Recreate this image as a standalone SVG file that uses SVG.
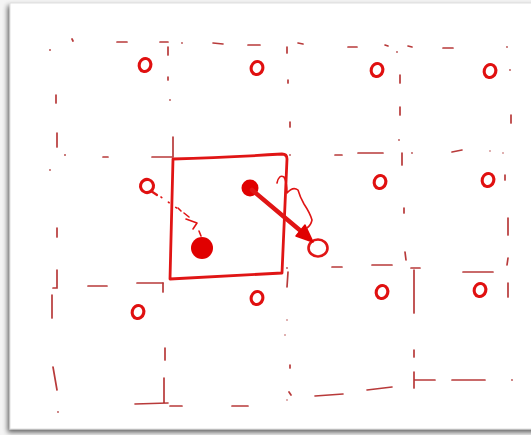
<svg xmlns="http://www.w3.org/2000/svg" width="531" height="435" viewBox="0 0 531 435">
<defs>
<style>
.g{fill:none;stroke:#b83a3a;stroke-width:1.7;stroke-linecap:round}
.d{fill:#b85050}
.o{fill:none;stroke:#e01010;stroke-width:3.1}
.r{fill:none;stroke:#e01515;stroke-linecap:round;stroke-linejoin:round}
</style>
<filter id="sh" x="-5%" y="-5%" width="110%" height="110%">
<feGaussianBlur in="SourceAlpha" stdDeviation="2.5"/>
<feOffset dx="-2" dy="3"/>
<feComponentTransfer><feFuncA type="linear" slope="0.6"/></feComponentTransfer>
<feMerge><feMergeNode/><feMergeNode in="SourceGraphic"/></feMerge>
</filter>
</defs>
<rect x="0" y="0" width="531" height="435" fill="#f4f4f4"/>
<rect x="10" y="3" width="530" height="426" fill="#ffffff" stroke="#d8d8d8" stroke-width="0.8" filter="url(#sh)"/>

<g id="grid">
<path class="g" d="M117,42 L127,42 M160,42 L168,42 M168,47 L168,55 M213,43 L223,44 M248,45 L260,45 M287,47 L287,53 M298,43 L303,44 M348,47 L357,47 M385,45 L388,46 M408,46 L412,47 M443,48 L453,48 M72,39 L73,41"/>
<path class="g" d="M56,95 L56,103 M57,133 L57,147 M57,228 L57,237 M57,270 L57,288 L53,288 M52,295 L52,318 M53,367 L57,390"/>
<path class="g" d="M168,77 L168,80 M173,137 L173,157 M163,283 L163,292 M165,348 L165,360 M164,378 L164,402 M135,404 L168,403 M170,406 L182,406 M232,406 L248,406"/>
<path class="g" d="M288,80 L288,83 M290,122 L290,127 M288,272 L287,287 M290,365 L290,368 M289,392 L291,395 M315,396 L343,394 M367,390 L392,387"/>
<path class="g" d="M400,75 L400,83 M400,107 L400,115 M402,153 L402,165 M404,208 L404,213 M405,252 L406,260 M411,268 L420,268 M414,270 L414,313 M414,350 L414,357 M414,372 L414,388 M415,380 L435,380 M452,380 L485,380"/>
<path class="g" d="M511,115 L511,123 M505,175 L505,180 M508,218 L508,235 M508,258 L507,265 M508,283 L508,297"/>
<path class="g" d="M103,157 L108,157 M152,157 L172,157 M335,155 L342,155 M358,153 L383,153 M452,152 L462,150 M332,267 L342,267 M372,265 L392,265 M463,272 L493,272 M88,286 L107,286 M137,283 L163,283"/>
<g class="d">
<circle cx="50" cy="50" r="1"/><circle cx="182" cy="43" r="0.9"/><circle cx="397" cy="52" r="0.9"/><circle cx="507" cy="47" r="0.9"/>
<circle cx="65" cy="155" r="1"/><circle cx="50" cy="170" r="0.9"/><circle cx="58" cy="412" r="0.9"/>
<circle cx="170" cy="100" r="0.9"/><circle cx="290" cy="155" r="0.9"/><circle cx="287" cy="268" r="0.9"/>
<circle cx="287" cy="320" r="0.8"/><circle cx="285" cy="335" r="0.8"/><circle cx="287" cy="400" r="0.8"/>
<circle cx="399" cy="140" r="0.9"/><circle cx="412" cy="153" r="0.9"/><circle cx="510" cy="70" r="0.9"/>
<circle cx="490" cy="151" r="0.8"/><circle cx="503" cy="153" r="0.8"/><circle cx="512" cy="380" r="0.9"/>
</g>
</g>

<g id="cells">
<ellipse class="o" cx="145" cy="65" rx="5.8" ry="6.6" transform="rotate(15 145 65)"/>
<ellipse class="o" cx="257" cy="68" rx="5.8" ry="6.6" transform="rotate(15 257 68)"/>
<ellipse class="o" cx="377" cy="70" rx="5.8" ry="6.6" transform="rotate(15 377 70)"/>
<ellipse class="o" cx="490" cy="71" rx="5.8" ry="6.6" transform="rotate(15 490 71)"/>
<ellipse class="o" cx="147" cy="186" rx="6.5" ry="6.6" transform="rotate(15 147 186)"/>
<path class="r" stroke-width="2.2" d="M151,191 L157,195"/>
<ellipse class="o" cx="380" cy="182" rx="5.8" ry="6.6" transform="rotate(15 380 182)"/>
<ellipse class="o" cx="488" cy="180" rx="5.8" ry="6.6" transform="rotate(15 488 180)"/>
<ellipse class="o" cx="138" cy="312" rx="5.8" ry="6.6" transform="rotate(15 138 312)"/>
<ellipse class="o" cx="257" cy="298" rx="5.8" ry="6.6" transform="rotate(15 257 298)"/>
<ellipse class="o" cx="382" cy="292" rx="5.8" ry="6.6" transform="rotate(15 382 292)"/>
<ellipse class="o" cx="480" cy="290" rx="5.8" ry="6.6" transform="rotate(15 480 290)"/>
</g>

<g id="box">
<path class="r" stroke-width="2.8" d="M173,159 C210,158 250,156 282,154 Q287,154 287,159 L282,273 L170,279 Z"/>
</g>

<g id="points">
<circle cx="202" cy="248" r="11" fill="#e00000"/>
<circle cx="250" cy="188" r="8.5" fill="#e00000"/>
<ellipse cx="318" cy="248" rx="9.5" ry="8.5" fill="#ffffff" stroke="#e01515" stroke-width="2.6"/>
</g>

<g id="connectors">
<path class="r" stroke="#c04545" stroke-width="1.6" stroke-dasharray="1,8" d="M161,197 L178,209"/>
<path class="r" stroke="#c04545" stroke-width="1.6" d="M178,208 L181,211 M184,213 L189,217"/>
<path class="r" stroke-width="1.6" d="M186,219 L197,223 L193,229"/>
<path class="r" stroke-width="1.6" d="M199,231 L201,236"/>
<path class="r" stroke-width="4.5" d="M252,190 L302,232"/>
<polygon points="313,242 296,236 305,225" fill="#e00000" stroke="#e00000" stroke-width="1.5" stroke-linejoin="round"/>
<path class="r" stroke-width="1.6" d="M277,183 Q279,174 284,177 Q287,182 287,193 Q293,186 298,190 Q300,197 304,204 Q310,213 312,220 Q311,225 307,228"/>
</g>
</svg>
